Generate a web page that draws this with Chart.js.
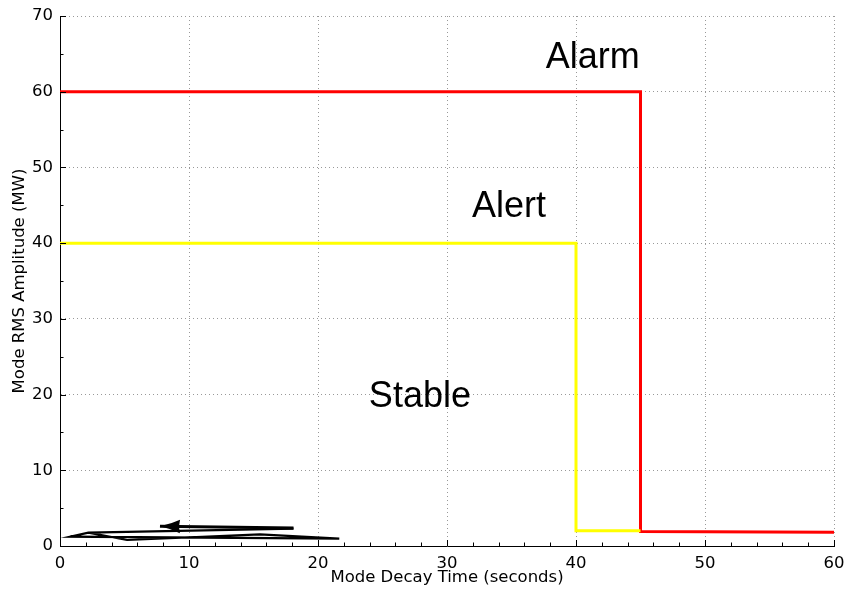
<!DOCTYPE html>
<html>
<head>
<meta charset="utf-8">
<script src="https://cdn.jsdelivr.net/npm/chart.js@4/dist/chart.umd.min.js"></script>
<style>
  html, body { margin: 0; padding: 0; background: #fff; }
  #wrap { width: 846px; height: 591px; }
</style>
</head>
<body>
<div id="wrap"><canvas id="c" width="846" height="591"></canvas></div>
<script>
// Alarm threshold (red) and alert threshold (yellow) step curves
const alarmX = [0, 45, 45, 60];
const alarmY = [60, 60, 1.9, 1.8];
const alertX = [0, 40, 40, 45];
const alertY = [40, 40, 2.0, 2.0];

// Observed mode trajectory (decay time, RMS amplitude)
const pathX = [2.2, 5.2, 15.5, 21.65, 0.8, 2.2, 18.1];
const pathY = [1.76, 0.79, 1.54, 0.97, 1.23, 1.76, 2.3];

// Direction arrow: tail -> tip
const arrowX = [18.1, 7.75];
const arrowY = [2.38, 2.6];

// Region labels
const zoneNames = ['Alarm', 'Alert', 'Stable'];
const zoneX = [41.3, 34.8, 27.9];
const zoneY = [63.1, 43.5, 18.4];

// Axis ticks
const xMajor = [0, 10, 20, 30, 40, 50, 60];
const xMinor = [2, 4, 6, 8, 12, 14, 16, 18, 22, 24, 26, 28, 32, 34, 36, 38, 42, 44, 46, 48, 52, 54, 56, 58];
const yMajor = [0, 10, 20, 30, 40, 50, 60, 70];
const yMinor = [5, 15, 25, 35, 45, 55, 65];

const pts = (xs, ys) => xs.map((v, i) => ({ x: v, y: ys[i] }));

const overlay = {
  id: 'overlay',
  afterDatasetsDraw(chart) {
    const { ctx, scales: { x, y }, chartArea: a } = chart;
    ctx.save();

    // inward tick marks on the bottom and left spines
    ctx.strokeStyle = '#000';
    ctx.lineWidth = 1;
    ctx.beginPath();
    const xt = (v, len) => {
      const px = Math.round(x.getPixelForValue(v)) + 0.5;
      ctx.moveTo(px, a.bottom); ctx.lineTo(px, a.bottom - len);
    };
    const yt = (v, len) => {
      const py = Math.round(y.getPixelForValue(v)) + 0.5;
      ctx.moveTo(a.left, py); ctx.lineTo(a.left + len, py);
    };
    xMajor.forEach(v => xt(v, 6));
    xMinor.forEach(v => xt(v, 3.5));
    yMajor.forEach(v => yt(v, 6));
    yMinor.forEach(v => yt(v, 3.5));
    ctx.stroke();

    // arrow head at the tip of the direction arrow
    const tx = x.getPixelForValue(arrowX[1]), ty = y.getPixelForValue(arrowY[1]);
    const sx = x.getPixelForValue(arrowX[0]), sy = y.getPixelForValue(arrowY[0]);
    const ang = Math.atan2(ty - sy, tx - sx);
    const L = 20, W = 6.7;
    ctx.translate(tx, ty);
    ctx.rotate(ang);
    ctx.fillStyle = '#000';
    ctx.beginPath();
    ctx.moveTo(0, 0);
    ctx.quadraticCurveTo(-L * 0.55, -W * 0.35, -L, -W);
    ctx.lineTo(-L * 0.95, 0);
    ctx.lineTo(-L, W);
    ctx.quadraticCurveTo(-L * 0.55, W * 0.35, 0, 0);
    ctx.closePath();
    ctx.fill();
    ctx.setTransform(1, 0, 0, 1, 0, 0);

    // region labels
    ctx.fillStyle = '#000';
    ctx.font = '36px "Liberation Sans", Arial, sans-serif';
    ctx.textAlign = 'center';
    ctx.textBaseline = 'alphabetic';
    zoneNames.forEach((t, i) => {
      ctx.fillText(t, x.getPixelForValue(zoneX[i]), y.getPixelForValue(zoneY[i]));
    });
    ctx.restore();
  }
};

const tickFont = { family: '"DejaVu Sans", sans-serif', size: 16.5 };
const titleFont = { family: '"DejaVu Sans", sans-serif', size: 16.5 };

new Chart(document.getElementById('c'), {
  type: 'scatter',
  data: {
    datasets: [
      { data: pts(pathX, pathY), showLine: true, borderColor: '#000', borderWidth: 2.2, pointRadius: 0, tension: 0 },
      { data: pts(arrowX, arrowY), showLine: true, borderColor: '#000', borderWidth: 3, pointRadius: 0, borderCapStyle: 'butt' },
      { data: pts(alertX, alertY), showLine: true, borderColor: '#ffff00', borderWidth: 3, pointRadius: 0 },
      { data: pts(alarmX, alarmY), showLine: true, borderColor: '#ff0000', borderWidth: 3, pointRadius: 0 }
    ]
  },
  options: {
    responsive: false,
    animation: false,
    devicePixelRatio: 1,
    layout: { padding: { top: 16, right: 12, left: 0, bottom: 0 } },
    plugins: { legend: { display: false }, tooltip: { enabled: false } },
    scales: {
      x: {
        type: 'linear', min: 0, max: 60,
        afterFit: s => { s.height = 45; s.paddingLeft = 0; s.paddingRight = 0; },
        ticks: { stepSize: 10, color: '#000', font: tickFont, padding: 8, maxRotation: 0 },
        grid: { color: '#999', lineWidth: 1, drawTicks: false },
        border: { display: true, color: '#000', width: 1, dash: [1, 3] },
        title: { display: true, text: 'Mode Decay Time (seconds)', color: '#000', font: titleFont, padding: { top: 0, bottom: 3 } }
      },
      y: {
        type: 'linear', min: 0, max: 70,
        afterFit: s => { s.width = 60; s.paddingTop = 0; s.paddingBottom = 0; },
        ticks: { stepSize: 10, color: '#000', font: tickFont, padding: 7 },
        grid: { color: '#999', lineWidth: 1, drawTicks: false },
        border: { display: true, color: '#000', width: 1, dash: [1, 3] },
        title: { display: true, text: 'Mode RMS Amplitude (MW)', color: '#000', font: titleFont, padding: { top: 10, bottom: 0 } }
      }
    }
  },
  plugins: [overlay]
});
</script>
</body>
</html>
